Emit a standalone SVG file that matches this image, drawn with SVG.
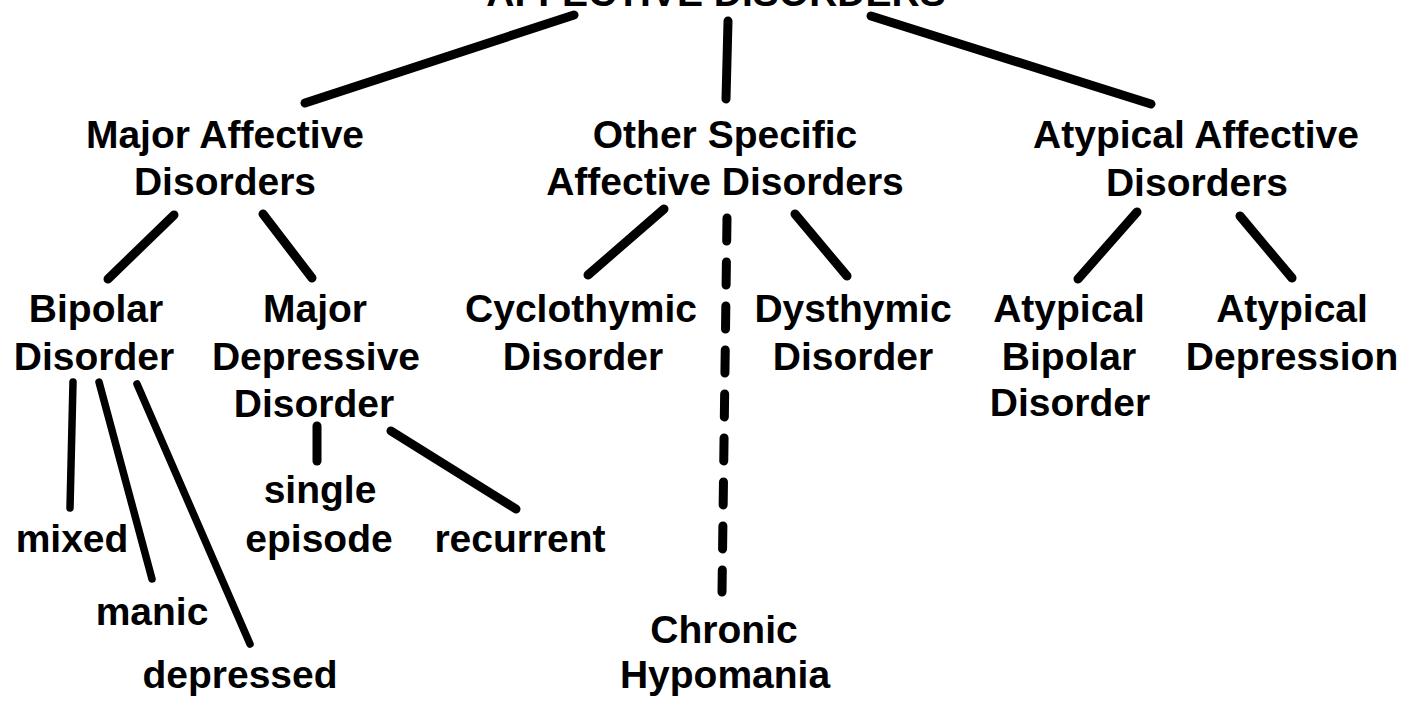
<svg xmlns="http://www.w3.org/2000/svg" width="1402" height="701" viewBox="0 0 1402 701">
<style>
text{font-family:"Liberation Sans",Arial,sans-serif;font-weight:bold;font-size:39px;fill:#000;text-anchor:middle}
.c{stroke:#000;stroke-width:9;stroke-linecap:round;fill:none}
.t{stroke-width:7.5}
.d{stroke-dasharray:23 21}
</style>
<rect width="1402" height="701" fill="#fff"/>
<g id="connectors">
<line class="c" x1="574" y1="15" x2="305" y2="103"/>
<line class="c" x1="728" y1="21" x2="726" y2="99"/>
<line class="c" x1="871" y1="16" x2="1151" y2="104"/>
<line class="c" x1="174" y1="215" x2="108" y2="279"/>
<line class="c" x1="263" y1="214" x2="312" y2="278"/>
<line class="c" x1="664" y1="209" x2="588" y2="275"/>
<line class="c" x1="795" y1="214" x2="847" y2="276"/>
<line class="c d" x1="727" y1="218" x2="722" y2="592"/>
<line class="c" x1="1137" y1="212" x2="1078" y2="279"/>
<line class="c" x1="1240" y1="216" x2="1292" y2="278"/>
<line class="c t" x1="73" y1="382" x2="70" y2="508"/>
<line class="c t" x1="99" y1="382" x2="152" y2="579"/>
<line class="c t" x1="137" y1="384" x2="250" y2="644"/>
<line class="c" x1="317" y1="426" x2="317" y2="461"/>
<line class="c" x1="391" y1="431" x2="516" y2="509"/>
</g>
<g id="title"><text x="716" y="6">AFFECTIVE DISORDERS</text></g>
<g id="major-affective"><text x="225" y="148">Major Affective</text><text x="225" y="195">Disorders</text></g>
<g id="other-specific"><text x="725" y="148">Other Specific</text><text x="725" y="195">Affective Disorders</text></g>
<g id="atypical-affective"><text x="1196" y="148">Atypical Affective</text><text x="1197" y="196">Disorders</text></g>
<g id="bipolar"><text x="96" y="322">Bipolar</text><text x="94" y="370">Disorder</text></g>
<g id="major-depressive"><text x="315" y="322">Major</text><text x="316" y="370">Depressive</text><text x="314" y="417">Disorder</text></g>
<g id="cyclothymic"><text x="581" y="322">Cyclothymic</text><text x="583" y="370">Disorder</text></g>
<g id="dysthymic"><text x="853" y="322">Dysthymic</text><text x="853" y="370">Disorder</text></g>
<g id="atypical-bipolar"><text x="1069" y="322">Atypical</text><text x="1069" y="370">Bipolar</text><text x="1070" y="416">Disorder</text></g>
<g id="atypical-depression"><text x="1292" y="322">Atypical</text><text x="1292" y="370">Depression</text></g>
<g id="mixed"><text x="72" y="552">mixed</text></g>
<g id="manic"><text x="152" y="625">manic</text></g>
<g id="depressed"><text x="240" y="688">depressed</text></g>
<g id="single-episode"><text x="320" y="503">single</text><text x="319" y="552">episode</text></g>
<g id="recurrent"><text x="520" y="552">recurrent</text></g>
<g id="chronic-hypomania"><text x="724" y="643">Chronic</text><text x="725" y="688">Hypomania</text></g>
</svg>
